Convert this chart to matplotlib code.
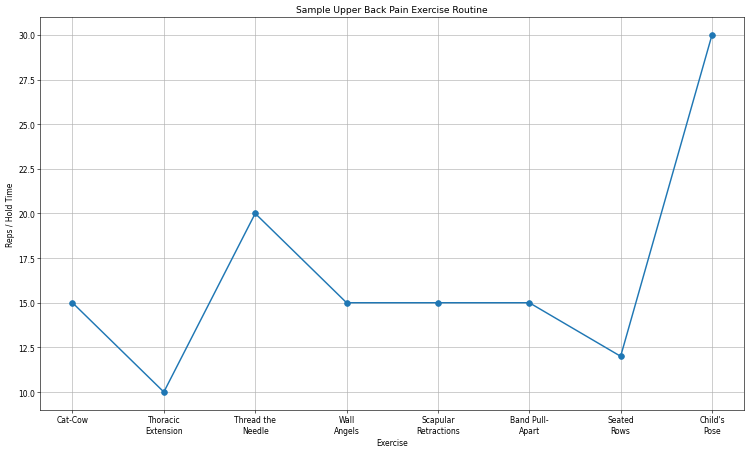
import matplotlib.pyplot as plt

exercises = ["Cat-Cow", "Thoracic\nExtension", "Thread the\nNeedle", "Wall\nAngels",
             "Scapular\nRetractions", "Band Pull-\nApart", "Seated\nRows", "Child's\nPose"]
reps = [15, 10, 20, 15, 15, 15, 12, 30]

fig, ax = plt.subplots(figsize=(13.636, 8.2), dpi=55)

ax.plot(exercises, reps, marker="o", linewidth=1.9, markersize=7.5)

ax.set_title("Sample Upper Back Pain Exercise Routine")
ax.set_xlabel("Exercise")
ax.set_ylabel("Reps / Hold Time")
ax.grid(True)

fig.subplots_adjust(left=0.054, right=0.992, top=0.96, bottom=0.089)
plt.savefig("out.png")
